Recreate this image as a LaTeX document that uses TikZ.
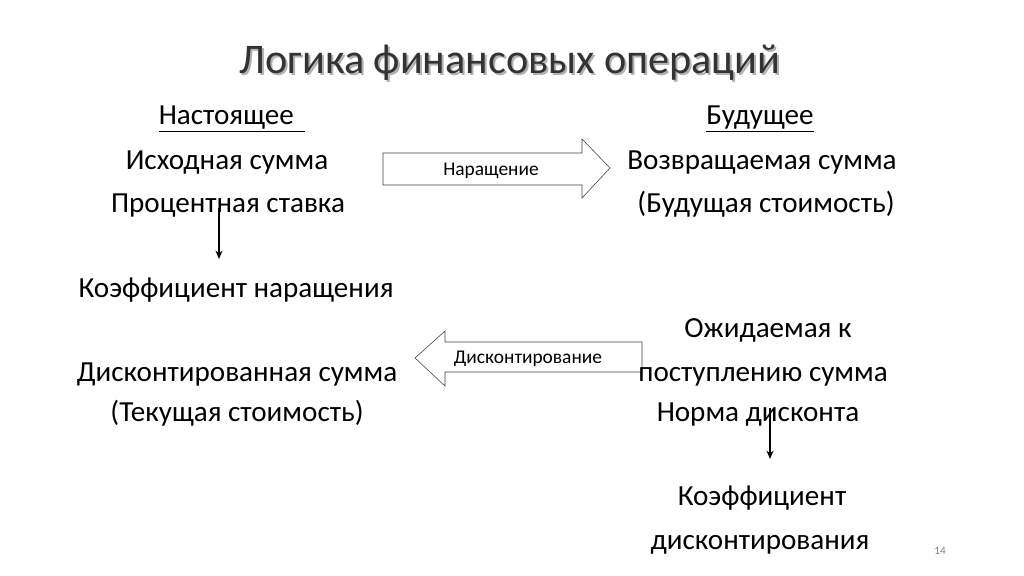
\documentclass[tikz,border=0pt]{standalone}
\usepackage{fontspec}
\setmainfont{Carlito}
\usepackage{tikz}
\usetikzlibrary{arrows.meta}

\tikzset{
  txt/.style={anchor=center, inner sep=0pt, text height=12.8pt, text depth=0pt,
    font=\fontsize{20.7}{24}\selectfont},
  lbl/.style={anchor=center, inner sep=0pt, text height=8.6pt, text depth=0pt,
    font=\fontsize{13.8}{16}\selectfont},
  blockarrow/.style={draw=black!75, thin, fill=white},
  downarrow/.style={thick, -{Stealth[length=6pt,width=5pt]}}
}

\begin{document}
\begin{tikzpicture}[x=0.025cm,y=-0.025cm]
\useasboundingbox (0,0) rectangle (1024,576);

%block arrows
\draw[blockarrow] (383,153) -- (582,153) -- (582,139) -- (610,168) -- (582,198)
  -- (582,185) -- (383,185) -- cycle;
\node[lbl] (grow) at (491,169) {Наращение};

\draw[blockarrow] (642,342) -- (445,342) -- (445,331) -- (415,358) -- (445,386)
  -- (445,372) -- (642,372) -- cycle;
\node[lbl] (disc) at (528,357) {Дисконтирование};

%title
\node[txt, text height=18.6pt, font=\fontsize{30}{34}\selectfont, text=black!30] (titleshadow) at (512,62) {Логика финансовых операций};
\node[txt, text height=18.6pt, font=\fontsize{30}{34}\selectfont, text=black!80] (title) at (510,60) {Логика финансовых операций};

%headings
\node[txt] (present) at (232,116) {\underline{Настоящее\ \,}};
\node[txt] (future) at (760,116) {\underline{Будущее}};

%left column
\node[txt] (initsum) at (227,161) {Исходная сумма};
\node[txt] (rate) at (228,204) {Процентная ставка};
\node[txt] (growcoef) at (236,289) {Коэффициент наращения};
\node[txt] (discsum) at (237,372) {Дисконтированная сумма};
\node[txt] (presval) at (237,412) {(Текущая стоимость)};

%right column
\node[txt] (retsum) at (762,161) {Возвращаемая сумма};
\node[txt] (futval) at (766,204) {(Будущая стоимость)};
\node[txt] (expect) at (768,329) {Ожидаемая к};
\node[txt] (receipt) at (763,372) {поступлению сумма};
\node[txt] (discrate) at (758,412) {Норма дисконта};
\node[txt] (disccoef1) at (762,496) {Коэффициент};
\node[txt] (disccoef2) at (760,540) {дисконтирования};

%page number
\node[lbl, text height=5pt, font=\fontsize{8}{9}\selectfont, text=black!50] (pagenum) at (940,551) {14};

%Lines
\coordinate (a1) at (219,208);
\coordinate (a2) at (219,259);
\draw[downarrow] (a1) -- (a2);
\coordinate (b1) at (770,408);
\coordinate (b2) at (770,459);
\draw[downarrow] (b1) -- (b2);

\end{tikzpicture}
\end{document}
